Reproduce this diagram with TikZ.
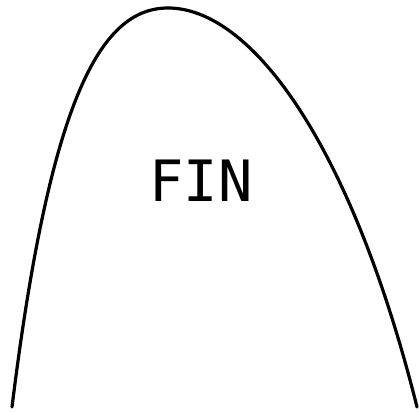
\documentclass[tikz,border=0pt]{standalone}
\usepackage{fontspec}
\newfontfamily\plotfont{DejaVu Sans Mono}
\begin{document}
\begin{tikzpicture}[x=1pt,y=-1pt]
			
			% page frame
			\useasboundingbox (0,0) rectangle (419,411);
			
			% outline of the fin
			\draw[line width=3.2pt,line cap=round]
				(12,407) .. controls (50,100) and (100,8) .. (168,8)
				.. controls (250,8) and (350,140) .. (417,407);
			
			% label
			\node[inner sep=0pt,anchor=base] (fin) at (201,202) {\plotfont\fontsize{57}{57}\selectfont FIN};
			
		\end{tikzpicture}
\end{document}
